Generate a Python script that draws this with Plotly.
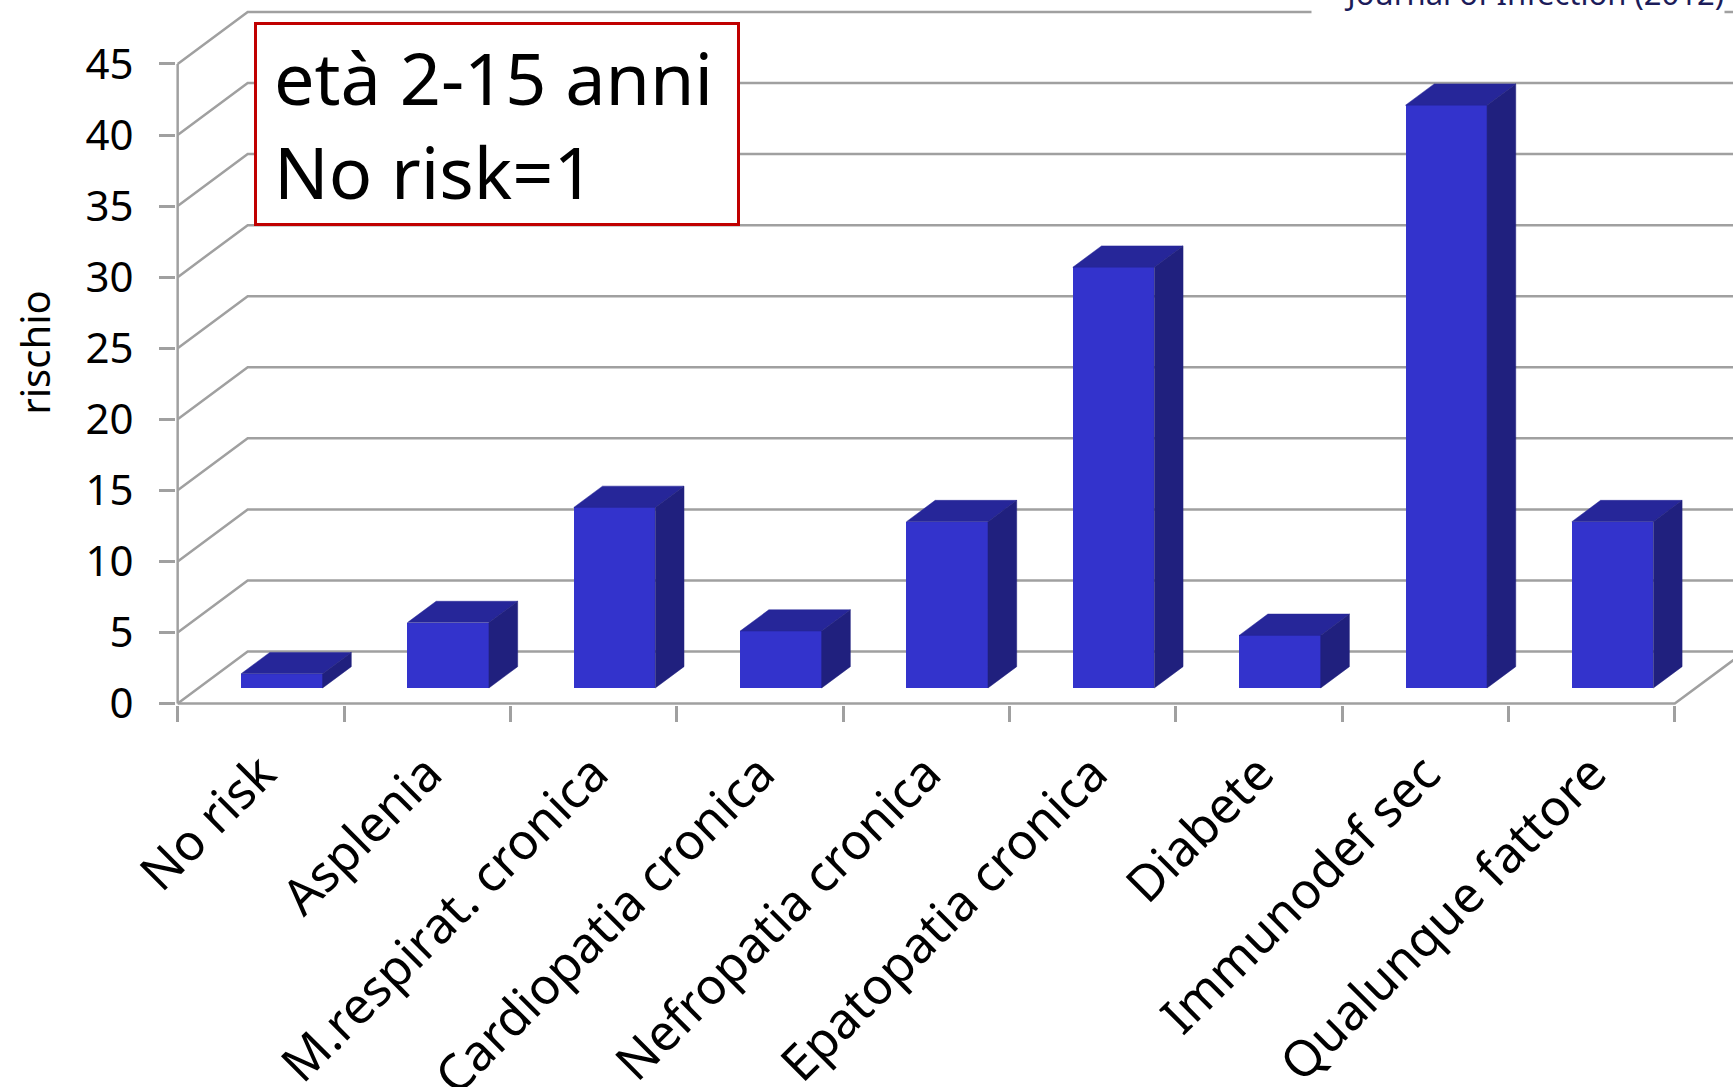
import numpy as np
import plotly.graph_objects as go

# ---------------- data ----------------
categories = ["No risk", "Asplenia", "M.respirat. cronica", "Cardiopatia cronica",
              "Nefropatia cronica", "Epatopatia cronica", "Diabete", "Immunodef sec",
              "Qualunque fattore"]
rischio = [1.0, 4.6, 12.7, 4.0, 11.7, 29.6, 3.7, 41.0, 11.7]
y_ticks = [0, 5, 10, 15, 20, 25, 30, 35, 40, 45]
box_text = "età 2-15 anni<br>No risk=1"
source_text = "Journal of Infection (2012)"
y_title = "rischio"

# ---------------- style / pseudo-3D geometry ----------------
W, H = 1733, 1087
ML, MB = 176, 382
DX, DY = 0.421, 3.66          # depth of the floor (x in categories, y in value units)
F0, F1 = 0.30, 0.71           # bar front / back position along the depth
BAR_W = 0.49
X0, X1 = -0.51, 8.85
Y0, Y1 = -0.1, 49.5
FRONT = "#3333CC"
TOP = "#262699"
SIDE = "#20207E"
GRID = "#A0A0A0"
FONT = "Noto Sans"

n = len(categories)
xc = np.arange(n, dtype=float)
vals = np.array(rischio, dtype=float)
PH = H - MB  # plot height in px

fig = go.Figure()

# front faces of the bars
base = F0 * DY
fig.add_trace(go.Bar(
    x=xc + F0 * DX, y=vals, base=base, width=BAR_W,
    marker=dict(color=FRONT, line=dict(width=0)),
    hoverinfo="skip", showlegend=False))

# top and side faces derived from the values
ddx, ddy = (F1 - F0) * DX, (F1 - F0) * DY
tx, ty, sx, sy = [], [], [], []
for i, v in zip(xc, vals):
    xl = i + F0 * DX - BAR_W / 2
    xr = i + F0 * DX + BAR_W / 2
    top = base + v
    tx += [xl, xr, xr + ddx, xl + ddx, xl, None]
    ty += [top, top, top + ddy, top + ddy, top, None]
    sx += [xr, xr, xr + ddx, xr + ddx, xr, None]
    sy += [base, top, top + ddy, base + ddy, base, None]
fig.add_trace(go.Scatter(x=tx, y=ty, mode="lines", fill="toself", fillcolor=TOP,
                         line=dict(width=0.5, color=TOP), hoverinfo="skip", showlegend=False))
fig.add_trace(go.Scatter(x=sx, y=sy, mode="lines", fill="toself", fillcolor=SIDE,
                         line=dict(width=0.5, color=SIDE), hoverinfo="skip", showlegend=False))

# wall gridlines (oblique) from the tick values
shapes = []
for t in y_ticks:
    shapes.append(dict(type="path", xref="x", yref="y", layer="below",
                       path=f"M {-0.5},{t} L {-0.5 + DX},{t + DY} L {X1 + 1},{t + DY}",
                       line=dict(color=GRID, width=2.5)))
# front value axis line and floor edge
shapes.append(dict(type="line", xref="x", yref="y", layer="below",
                   x0=-0.5, y0=0, x1=-0.5, y1=y_ticks[-1], line=dict(color=GRID, width=2.5)))
shapes.append(dict(type="path", xref="x", yref="y", layer="below",
                   path=f"M {-0.5},0 L {n - 0.5},0 L {n - 0.5 + DX},{DY}",
                   line=dict(color=GRID, width=2.5)))

fig.update_layout(
    width=W, height=H,
    margin=dict(l=ML, r=0, t=0, b=MB, autoexpand=False),
    paper_bgcolor="white", plot_bgcolor="white",
    shapes=shapes,
    showlegend=False,
    font=dict(family=FONT, color="black"),
    bargap=0,
    annotations=[
        dict(text=box_text, xref="paper", yref="paper",
             x=(254 - ML) / (W - ML), y=1 - 22 / PH,
             xanchor="left", yanchor="top", align="left",
             showarrow=False, font=dict(size=72, color="black", family=FONT),
             bordercolor="#C00000", borderwidth=3, borderpad=17, bgcolor="white",
             width=446, height=164, valign="middle"),
        dict(text=source_text, xref="paper", yref="paper",
             x=1.0, y=1 - 15 / PH, xanchor="right", yanchor="bottom", xshift=-8,
             showarrow=False, font=dict(size=31, color="#1C1C5A", family=FONT),
             bgcolor="white", width=412, align="right", borderpad=0),
    ],
)

fig.update_xaxes(
    range=[X0, X1], showgrid=False, zeroline=False, showline=False, automargin=False,
    tickmode="array", tickvals=list(xc), ticktext=categories,
    ticks="", tickangle=-45, tickfont=dict(size=50, color="black", family=FONT),
    ticklabelstandoff=28,
    minor=dict(tickmode="array", tickvals=list(np.arange(-0.5, n, 1.0)),
               ticks="outside", ticklen=16, tickcolor=GRID, tickwidth=2.5, showgrid=False),
)
fig.update_yaxes(
    range=[Y0, Y1], showgrid=False, zeroline=False, showline=False, automargin=False,
    tickmode="array", tickvals=y_ticks, ticks="outside", ticklen=16,
    tickcolor=GRID, tickwidth=2.5,
    tickfont=dict(size=42, color="black", family=FONT), ticklabelstandoff=17,
    title=dict(text=y_title, font=dict(size=40, color="black", family=FONT), standoff=22),
)

fig.write_html("out.html", config={"displayModeBar": False},
               post_script="document.body.style.margin='0';document.body.style.overflow='hidden';")
